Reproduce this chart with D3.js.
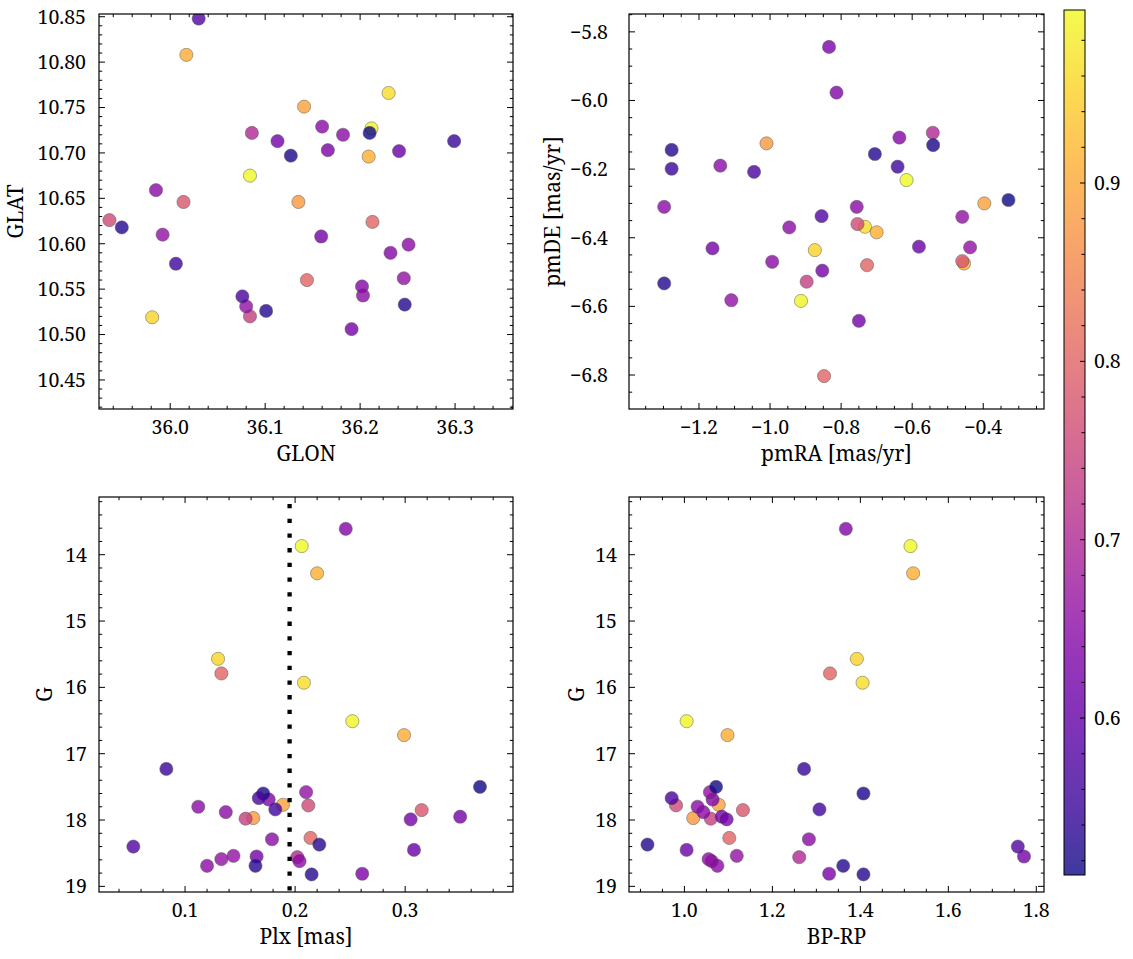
<!DOCTYPE html>
<html><head><meta charset="utf-8">
<script src="https://cdn.jsdelivr.net/npm/d3@7"></script>
<style>
body{margin:0;background:#fff}
</style>
</head><body>
<svg id="c" width="1133" height="959"></svg>
<script>
// ---- data: one entry per star (membership probability + Gaia quantities) ----
const prob = [0.997,0.99,0.965,0.955, 0.91,0.905,0.89,0.88, 0.80,0.80,0.78,0.76,0.74,0.70,
  0.61,0.62,0.62,0.62,0.63,0.64,0.64,0.65,0.65,0.65,0.65,0.65,0.66,0.66,0.66,
  0.512,0.52,0.53,0.53,0.53,0.55,0.56,0.57,0.58];
const glon = [36.084,36.212,36.230,35.981, 36.209,36.017,36.141,36.135, 36.213,36.144,36.014,35.936,36.084,36.086,
  36.241,36.159,36.191,36.113,36.166,36.232,36.202,36.203,36.160,35.985,36.251,36.182,35.992,36.080,36.246,
  36.210,36.127,36.101,35.949,36.247,36.299,36.006,36.076,36.030];
const glat = [10.675,10.727,10.766,10.519, 10.696,10.808,10.751,10.646, 10.624,10.560,10.646,10.626,10.520,10.722,
  10.702,10.608,10.506,10.713,10.703,10.590,10.553,10.543,10.729,10.659,10.599,10.720,10.610,10.531,10.562,
  10.722,10.697,10.526,10.618,10.533,10.713,10.578,10.542,10.848];
const pmra = [-0.616,-0.913,-0.733,-0.874, -0.700,-0.454,-0.397,-1.010, -0.848,-0.727,-0.459,-0.754,-0.897,-0.542,
  -0.581,-0.853,-1.162,-0.750,-0.834,-0.813,-0.636,-0.946,-1.298,-0.994,-1.140,-0.756,-0.459,-0.437,-1.109,
  -0.329,-0.541,-1.277,-1.298,-0.705,-1.277,-0.641,-1.045,-0.855];
const pmde = [-6.232,-6.584,-6.368,-6.436, -6.384,-6.475,-6.300,-6.125, -6.803,-6.480,-6.468,-6.360,-6.528,-6.094,
  -6.426,-6.496,-6.431,-6.642,-5.844,-5.977,-6.108,-6.370,-6.310,-6.470,-6.190,-6.310,-6.339,-6.428,-6.582,
  -6.290,-6.130,-6.144,-6.533,-6.156,-6.199,-6.193,-6.208,-6.337];
const plx = [0.206,0.252,0.208,0.130, 0.220,0.299,0.189,0.162, 0.133,0.214,0.315,0.212,0.155,0.202,
  0.308,0.350,0.305,0.165,0.261,0.246,0.176,0.112,0.137,0.179,0.204,0.120,0.210,0.144,0.133,
  0.368,0.171,0.222,0.164,0.215,0.083,0.182,0.167,0.053];
const gmag = [13.87,16.51,15.93,15.57, 14.28,16.72,17.77,17.97, 15.79,18.27,17.85,17.78,17.98,18.56,
  18.45,17.95,17.99,18.55,18.81,13.61,17.69,17.80,17.88,18.29,18.62,18.69,17.58,18.54,18.59,
  17.50,17.60,18.37,18.69,18.82,17.23,17.84,17.67,18.40];
const bprp = [1.514,1.005,1.405,1.392, 1.520,1.098,1.078,1.020, 1.331,1.102,1.133,0.981,1.060,1.261,
  1.005,1.085,1.096,1.772,1.329,1.367,1.064,1.030,1.043,1.283,1.062,1.075,1.058,1.119,1.055,
  1.072,1.407,0.916,1.361,1.407,1.272,1.307,0.971,1.758];
const plxCut = 0.195;
const cbarTicks = [0.6,0.7,0.8,0.9];

// ---- build ----
const FONT = "'Noto Serif', 'Liberation Serif', serif";
const stars = prob.map((p,i)=>({p, glon:glon[i], glat:glat[i], pmra:pmra[i], pmde:pmde[i],
  plx:plx[i], g:gmag[i], bprp:bprp[i]}));
const cdom = d3.extent(prob);
const color = d3.scaleSequential(d3.interpolatePlasma).domain(cdom);
const svg = d3.select('#c');
const FS = 19.5, LFS = 21;

const panels = [
 {x0:99,x1:513,y0:14,y1:409, xk:'glon', yk:'glat', xd:[35.925,36.361], yd:[10.418,10.853],
  xM:0.1,xm:0.02,yM:0.05,ym:0.01, xf:'.1f', yf:'.2f', xl:'GLON', yl:'GLAT', ylx:16, ypad:13},
 {x0:629,x1:1044,y0:14,y1:409, xk:'pmra', yk:'pmde', xd:[-1.397,-0.229], yd:[-6.899,-5.748],
  xM:0.2,xm:0.05,yM:0.2,ym:0.05, xf:'.1f', yf:'.1f', xl:'pmRA [mas/yr]', yl:'pmDE [mas/yr]', ylx:553, ypad:21},
 {x0:99,x1:513,y0:497,y1:892, xk:'plx', yk:'g', xd:[0.0218,0.398], yd:[19.085,13.13],
  xM:0.1,xm:0.02,yM:1,ym:0.2, xf:'.1f', yf:'d', xl:'Plx [mas]', yl:'G', ylx:45, ypad:12, vline:plxCut},
 {x0:629,x1:1044,y0:497,y1:892, xk:'bprp', yk:'g', xd:[0.874,1.8175], yd:[19.085,13.13],
  xM:0.2,xm:0.05,yM:1,ym:0.2, xf:'.1f', yf:'d', xl:'BP-RP', yl:'G', ylx:577, ypad:12},
];

function tickVals(d, step){
  const lo=Math.min(d[0],d[1]), hi=Math.max(d[0],d[1]);
  const out=[];
  for(let k=Math.ceil(lo/step-1e-9); k*step<=hi+1e-9; k++) out.push(+(k*step).toFixed(6));
  return out;
}

panels.forEach((P,pi)=>{
  const x = d3.scaleLinear().domain(P.xd).range([P.x0,P.x1]);
  const y = d3.scaleLinear().domain(P.yd).range([P.y1,P.y0]);
  const g = svg.append('g');
  const cid = 'clip'+pi;
  g.append('clipPath').attr('id',cid).append('rect')
    .attr('x',P.x0).attr('y',P.y0).attr('width',P.x1-P.x0).attr('height',P.y1-P.y0);

  g.append('g').attr('clip-path',`url(#${cid})`).selectAll('circle').data(stars).join('circle')
    .attr('cx',d=>x(d[P.xk])).attr('cy',d=>y(d[P.yk])).attr('r',6.6)
    .attr('fill',d=>color(d.p)).attr('stroke','#333').attr('stroke-width',0.5)
    .attr('opacity',0.8);

  if(P.vline!==undefined){
    g.append('line').attr('x1',x(P.vline)).attr('x2',x(P.vline)).attr('y1',P.y0).attr('y2',P.y1)
      .attr('stroke','#000').attr('stroke-width',4.3).attr('stroke-dasharray','4.3,10.4')
      .attr('stroke-dashoffset',7.7);
  }

  const tk = g.append('g').attr('stroke','#000').attr('stroke-width',1);
  const xMaj = tickVals(P.xd,P.xM), xMin = tickVals(P.xd,P.xm);
  const yMaj = tickVals(P.yd,P.yM), yMin = tickVals(P.yd,P.ym);
  const isMaj = (v,arr)=>arr.some(a=>Math.abs(a-v)<1e-6);
  xMin.forEach(v=>{ const L = isMaj(v,xMaj)?6:3.2; const X=x(v);
    tk.append('line').attr('x1',X).attr('x2',X).attr('y1',P.y1).attr('y2',P.y1-L);
    tk.append('line').attr('x1',X).attr('x2',X).attr('y1',P.y0).attr('y2',P.y0+L); });
  yMin.forEach(v=>{ const L = isMaj(v,yMaj)?6:3.2; const Y=y(v);
    tk.append('line').attr('y1',Y).attr('y2',Y).attr('x1',P.x0).attr('x2',P.x0+L);
    tk.append('line').attr('y1',Y).attr('y2',Y).attr('x1',P.x1).attr('x2',P.x1-L); });

  g.append('rect').attr('x',P.x0).attr('y',P.y0).attr('width',P.x1-P.x0).attr('height',P.y1-P.y0)
    .attr('fill','none').attr('stroke','#000').attr('stroke-width',1.2);

  const fx = d3.format(P.xf), fy = d3.format(P.yf);
  g.append('g').selectAll('text').data(xMaj).join('text')
    .attr('font-family',FONT)
    .attr('x',d=>x(d)).attr('y',P.y1+25).attr('text-anchor','middle').attr('font-size',FS).text(d=>fx(d));
  g.append('g').selectAll('text').data(yMaj).join('text')
    .attr('font-family',FONT)
    .attr('x',P.x0-P.ypad).attr('y',d=>y(d)).attr('dy','0.35em').attr('text-anchor','end')
    .attr('font-size',FS).text(d=>fy(d));

  g.append('text').attr('font-family',FONT).attr('x',(P.x0+P.x1)/2).attr('y',P.y1+52).attr('text-anchor','middle')
    .attr('font-size',LFS).text(P.xl);
  g.append('text').attr('font-family',FONT).attr('transform',`translate(${P.ylx},${(P.y0+P.y1)/2}) rotate(-90)`)
    .attr('dy','0.35em').attr('text-anchor','middle').attr('font-size',LFS).text(P.yl);
});

// ---- colorbar ----
const cb = {x0:1064,x1:1085,y0:10,y1:875};
const cy = d3.scaleLinear().domain(cdom).range([cb.y1,cb.y0]);
const defs = svg.append('defs');
const grad = defs.append('linearGradient').attr('id','cbg').attr('x1',0).attr('x2',0).attr('y1',1).attr('y2',0);
d3.range(0,1.0001,0.05).forEach(t=>{
  grad.append('stop').attr('offset',t).attr('stop-color',color(cdom[0]+t*(cdom[1]-cdom[0])));
});
svg.append('rect').attr('x',cb.x0).attr('y',cb.y0).attr('width',cb.x1-cb.x0).attr('height',cb.y1-cb.y0)
  .attr('fill','url(#cbg)').attr('opacity',0.8);
const cbt = svg.append('g').attr('stroke','#000').attr('stroke-width',1);
tickVals(cdom,0.02).forEach(v=>{
  const maj = cbarTicks.some(a=>Math.abs(a-v)<1e-6);
  cbt.append('line').attr('x1',cb.x1).attr('x2',cb.x1-(maj?5:3.6)).attr('y1',cy(v)).attr('y2',cy(v));
});
svg.append('rect').attr('x',cb.x0).attr('y',cb.y0).attr('width',cb.x1-cb.x0).attr('height',cb.y1-cb.y0)
  .attr('fill','none').attr('stroke','#000').attr('stroke-width',1);
svg.append('g').selectAll('text').data(cbarTicks).join('text')
  .attr('font-family',FONT)
  .attr('x',cb.x1+9).attr('y',d=>cy(d)).attr('dy','0.35em').attr('font-size',FS)
  .text(d=>d3.format('.1f')(d));
</script>
</body></html>
